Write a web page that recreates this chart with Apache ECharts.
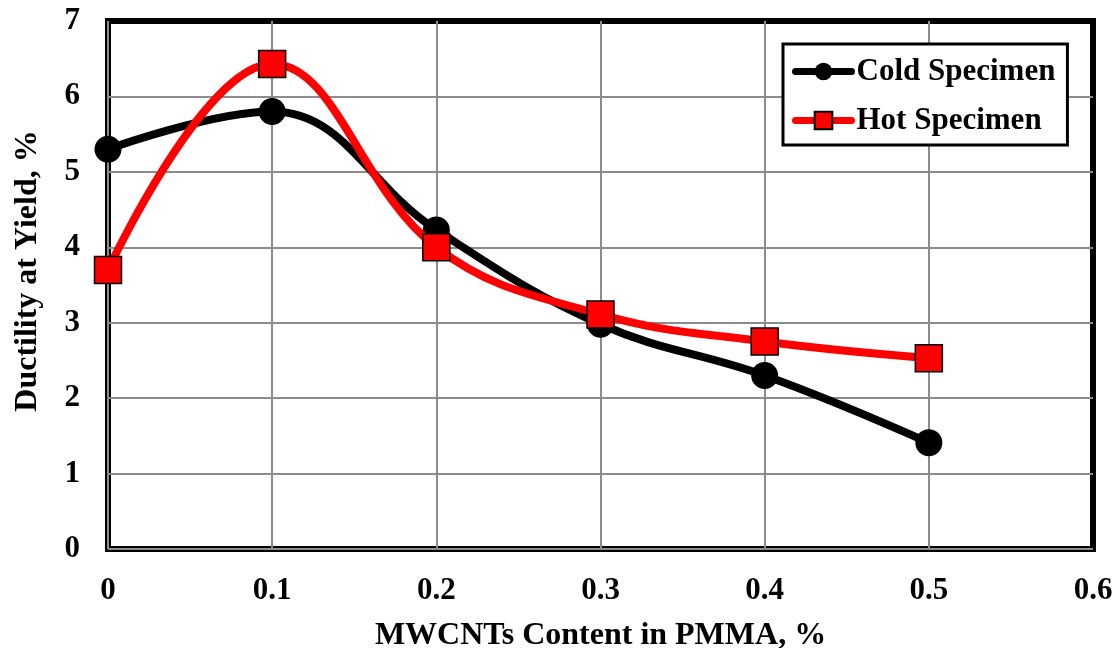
<!DOCTYPE html>
<html>
<head>
<meta charset="utf-8">
<script src="https://cdn.jsdelivr.net/npm/echarts@6/dist/echarts.min.js"></script>
<style>
html,body{margin:0;padding:0;background:#fff;}
#chart{width:1119px;height:648px;}
</style>
</head>
<body>
<div id="chart"></div>
<script>
const xValues = [0, 0.1, 0.2, 0.3, 0.4, 0.5];
const coldValues = [5.30, 5.80, 4.23, 2.98, 2.30, 1.41];
const hotValues = [3.70, 6.43, 4.00, 3.11, 2.75, 2.53];
const seriesNames = ['Cold Specimen', 'Hot Specimen'];
const xTitle = 'MWCNTs Content in PMMA, %';
const yTitle = 'Ductility at Yield, %';

const FONT = '"Liberation Serif", "Times New Roman", serif';
const chart = echarts.init(document.getElementById('chart'), null, {renderer: 'canvas'});

function pairs(ys) { return xValues.map((x, i) => [x, ys[i]]); }

chart.setOption({
  backgroundColor: '#fff',
  animation: false,
  grid: {
    left: 108, right: 26, top: 21, bottom: 99,
    outerBoundsMode: 'none', containLabel: false,
    show: true, borderColor: '#000', borderWidth: 6, backgroundColor: '#fff'
  },
  legend: {
    left: 783, top: 44,
    orient: 'vertical',
    backgroundColor: '#fff',
    borderColor: '#000', borderWidth: 3,
    padding: [12, 12, 9, 9],
    itemGap: 18,
    itemWidth: 56, itemHeight: 22,
    textStyle: {fontFamily: FONT, fontWeight: 'bold', fontSize: 31, color: '#000'},
    data: [
      {name: seriesNames[0], lineStyle: {width: 7, cap: 'round'}},
      {name: seriesNames[1], lineStyle: {width: 7, cap: 'round'}}
    ]
  },
  xAxis: {
    type: 'value', min: 0, max: 0.6, interval: 0.1,
    name: xTitle, nameLocation: 'middle', nameGap: 71,
    nameTextStyle: {fontFamily: FONT, fontWeight: 'bold', fontSize: 32, color: '#000'},
    axisLine: {show: false},
    axisTick: {show: false},
    axisLabel: {fontFamily: FONT, fontWeight: 'bold', fontSize: 31, color: '#000', margin: 26,
      formatter: v => (v === 0 ? '0' : v.toFixed(1))},
    splitLine: {show: true, showMaxLine: false, lineStyle: {color: '#8c8c8c', width: 2}}
  },
  yAxis: {
    type: 'value', min: 0, max: 7, interval: 1,
    name: yTitle, nameLocation: 'middle', nameGap: 64,
    nameTextStyle: {fontFamily: FONT, fontWeight: 'bold', fontSize: 32, color: '#000', padding: [0, 0, 0, 28]},
    axisLine: {show: false},
    axisTick: {show: false},
    axisLabel: {fontFamily: FONT, fontWeight: 'bold', fontSize: 31, color: '#000', margin: 28},
    splitLine: {show: true, showMaxLine: false, lineStyle: {color: '#8c8c8c', width: 2}}
  },
  series: [
    {
      name: seriesNames[0], type: 'line', smooth: 0.4,
      data: pairs(coldValues),
      symbol: 'circle', symbolSize: 27,
      lineStyle: {color: '#000', width: 8},
      itemStyle: {color: '#000', borderColor: '#000', borderWidth: 0},
      z: 3
    },
    {
      name: seriesNames[1], type: 'line', smooth: 0.4,
      data: pairs(hotValues),
      symbol: 'rect', symbolSize: 27,
      lineStyle: {color: '#ff0000', width: 8},
      itemStyle: {color: '#ff0000', borderColor: '#000', borderWidth: 1.5},
      z: 4
    }
  ]
});
</script>
</body>
</html>
